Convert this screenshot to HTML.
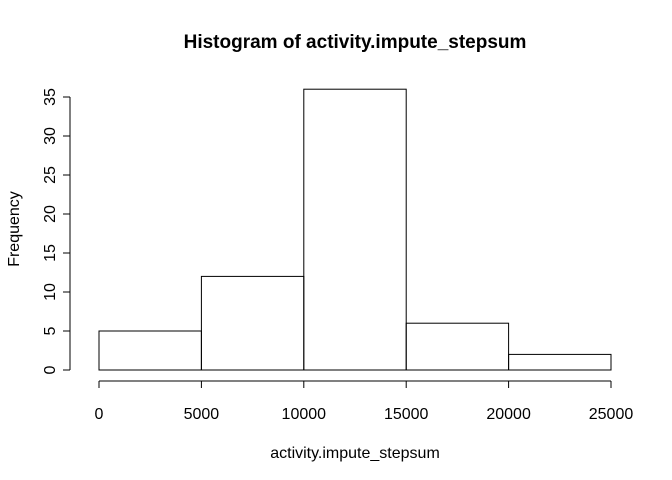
<!DOCTYPE html>
<html><head><meta charset="utf-8"><style>
body{margin:0;background:#fff;}
svg{display:block;font-family:"Liberation Sans",Arial,sans-serif;}
</style></head><body>
<svg id="chart" width="672" height="480" viewBox="0 0 672 480">
<text x="355" y="48" text-anchor="middle" font-size="19" font-weight="bold">Histogram of activity.impute_stepsum</text>
<text x="355" y="458" text-anchor="middle" font-size="16">activity.impute_stepsum</text>
<text transform="translate(19,229) rotate(-90)" text-anchor="middle" font-size="16">Frequency</text>
<g id="bars"></g><g id="xaxis"></g><g id="yaxis"></g>
</svg>
<script>
const binEdges=[0,5000,10000,15000,20000,25000];
const counts=[5,12,36,6,2];
const xTicks=[0,5000,10000,15000,20000,25000];
const yTicks=[0,5,10,15,20,25,30,35];
const NS="http://www.w3.org/2000/svg";
function xs(v){return 99+v*(512/25000);}
function ys(v){return 370-v*7.8;}
function mk(t,a,p){const e=document.createElementNS(NS,t);for(const k in a)e.setAttribute(k,a[k]);p.appendChild(e);return e;}
const bars=document.getElementById('bars');
counts.forEach((c,i)=>{
 const r=mk('rect',{x:xs(binEdges[i]),y:ys(c),width:xs(binEdges[i+1])-xs(binEdges[i]),height:ys(0)-ys(c),fill:'none',stroke:'#000','stroke-width':1},bars);
 
 
});
const xa=document.getElementById('xaxis');
mk('line',{x1:xs(xTicks[0]),x2:xs(xTicks[xTicks.length-1]),y1:381,y2:381,stroke:'#000'},xa);
xTicks.forEach(t=>{
 mk('line',{x1:xs(t),x2:xs(t),y1:381,y2:388,stroke:'#000'},xa);
 const tx=mk('text',{x:xs(t),y:419,'text-anchor':'middle','font-size':16},xa);tx.textContent=t;
 
 
});
const ya=document.getElementById('yaxis');
mk('line',{x1:70,x2:70,y1:ys(yTicks[0]),y2:ys(yTicks[yTicks.length-1]),stroke:'#000'},ya);
yTicks.forEach(t=>{
 mk('line',{x1:63,x2:70,y1:ys(t),y2:ys(t),stroke:'#000'},ya);
 const tx=mk('text',{transform:`translate(55,${ys(t)}) rotate(-90)`,'text-anchor':'middle','font-size':16},ya);tx.textContent=t;
 
 
});
</script>
</body></html>
